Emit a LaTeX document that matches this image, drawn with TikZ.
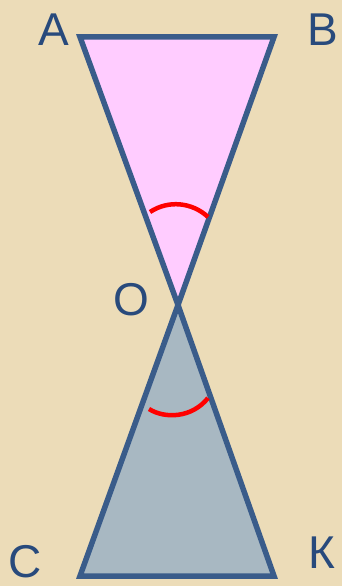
\documentclass[tikz,border=0pt]{standalone}
\usepackage{fontspec}
\setmainfont{Liberation Sans}
\usetikzlibrary{positioning}
\definecolor{paper}{RGB}{236,220,184}
\definecolor{edgeblue}{RGB}{58,92,138}
\definecolor{letterblue}{RGB}{40,74,124}
\definecolor{pinkfill}{RGB}{255,204,255}
\definecolor{greyfill}{RGB}{168,184,194}

\begin{document}
\begin{tikzpicture}[
  x=1pt,y=-1pt,
  side/.style={draw=edgeblue,line width=5.5pt,line join=miter},
  vertex/.style={text=letterblue,inner sep=0pt,font=\fontsize{46}{46}\selectfont},
  anglemark/.style={draw=red,line width=4.5pt}
]
  \fill[paper] (0,0) rectangle (342,586);
  \useasboundingbox (0,0) rectangle (342,586);
  % vertices
  \coordinate (a) at (80,37);
  \coordinate (b) at (274,37);
  \coordinate (o) at (178,305);
  \coordinate (c) at (80,576);
  \coordinate (k) at (274,576);
  % the two triangles
  \fill[pinkfill] (a) -- (b) -- (o) -- cycle;
  \fill[greyfill] (o) -- (c) -- (k) -- cycle;
  \draw[side] (a) -- (b) -- (o) -- cycle;
  \draw[side] (o) -- (c) -- (k) -- cycle;
  % equal angles
  \draw[anglemark] (150,212) .. controls (168,200) and (192,202) .. (208,217);
  \draw[anglemark] (149,409) .. controls (165,419) and (192,418) .. (208,398);
  % labels
  \node[vertex] (la) at (54,30) {А};
  \node[vertex] (lb) at (323,30) {В};
  \node[vertex] (lo) at (131,300) {О};
  \node[vertex] (lc) at (25,562) {С};
  \node[vertex] (lk) at (322,553) {К};
\end{tikzpicture}
\end{document}
